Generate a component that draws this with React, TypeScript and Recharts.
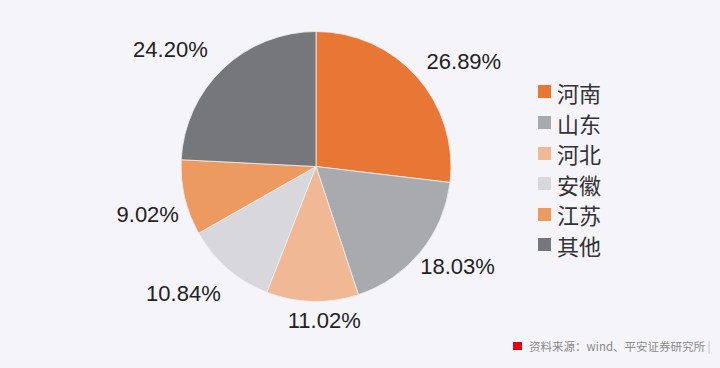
import React from 'react';
import { PieChart, Pie, Cell } from 'recharts';

const regions = ['河南', '山东', '河北', '安徽', '江苏', '其他'];
const shares = [26.89, 18.03, 11.02, 10.84, 9.02, 24.2];
const colors = ['#E87634', '#A9AAAE', '#F0B894', '#D8D8DC', '#ED9A61', '#76777B'];
const sourceNote = '资料来源：wind、平安证券研究所';

// label nudges (styling only)
const labelNudge = [
  [17, 11],
  [6, -11],
  [13, -21],
  [-18, -6],
  [2, 7],
  [-25, 9],
];

const data = regions.map((name, i) => ({ name, value: shares[i] }));

const RAD = Math.PI / 180;

const renderLabel = (props: any) => {
  const { cx, cy, midAngle, outerRadius, index, value } = props;
  const r = outerRadius + 40;
  const x = cx + r * Math.cos(-midAngle * RAD) + labelNudge[index][0];
  const y = cy + r * Math.sin(-midAngle * RAD) + labelNudge[index][1];
  return (
    <text
      x={x}
      y={y + 8}
      textAnchor="middle"
      fill="#222222"
      fontSize={22}
      fontFamily="'Liberation Sans', Arial, sans-serif"
    >
      {value.toFixed(2)}%
    </text>
  );
};

export default function App() {
  return (
    <div
      style={{
        position: 'fixed',
        left: 0,
        top: 0,
        width: 720,
        height: 368,
        background: '#F5F5F9',
        overflow: 'hidden',
      }}
    >
      <PieChart width={720} height={368} margin={{ top: 0, right: 0, bottom: 0, left: 0 }}>
        <Pie
          data={data}
          dataKey="value"
          nameKey="name"
          cx={316}
          cy={166.5}
          outerRadius={135}
          startAngle={90}
          endAngle={-270}
          stroke="#F0F0F2"
          strokeWidth={0.8}
          label={renderLabel}
          labelLine={false}
          isAnimationActive={false}
        >
          {data.map((d, i) => (
            <Cell key={d.name} fill={colors[i]} />
          ))}
        </Pie>
      </PieChart>
      <div style={{ position: 'absolute', left: 538, top: 76.7 }}>
        {regions.map((name, i) => (
          <div
            key={name}
            style={{
              height: 30.6,
              display: 'flex',
              alignItems: 'center',
              fontFamily: "'Noto Sans CJK SC', sans-serif",
              fontSize: 22,
              color: '#333333',
            }}
          >
            <span
              style={{
                display: 'inline-block',
                width: 13,
                height: 13,
                background: colors[i],
                marginRight: 6,
              }}
            />
            <span style={{ lineHeight: '30px' }}>{name}</span>
          </div>
        ))}
      </div>
      <div
        style={{
          position: 'absolute',
          left: 513,
          top: 341.5,
          width: 9,
          height: 8,
          background: '#E60012',
        }}
      />
      <div
        style={{
          position: 'absolute',
          left: 529,
          top: 337,
          height: 18,
          lineHeight: '18px',
          fontSize: 11.5,
          whiteSpace: 'nowrap',
          color: '#8A8A8A',
          fontFamily: "'Noto Sans CJK SC', sans-serif",
        }}
      >
        {sourceNote} <span style={{ color: '#BBBBBB' }}>|</span>
      </div>
    </div>
  );
}
